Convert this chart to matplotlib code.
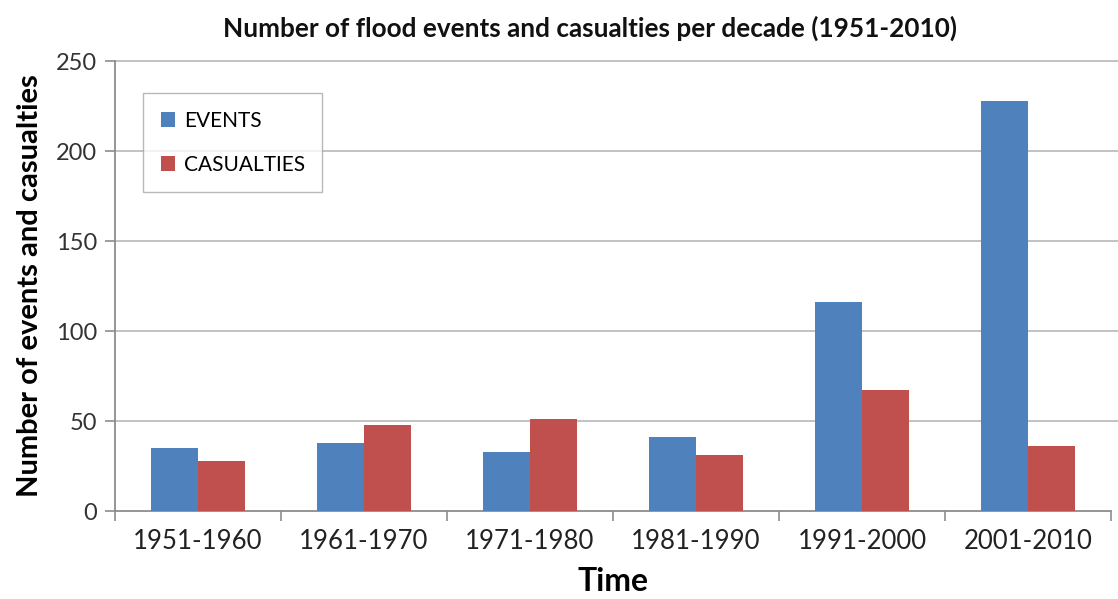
import matplotlib
matplotlib.use("Agg")
import matplotlib.pyplot as plt
import numpy as np

plt.rcParams['font.family'] = ['Lato', 'DejaVu Sans']

decades = ["1951-1960", "1961-1970", "1971-1980", "1981-1990", "1991-2000", "2001-2010"]
events = [35, 38, 33, 41, 116, 228]
casualties = [28, 48, 51, 31, 67, 36]
y_ticks = [0, 50, 100, 150, 200, 250]

blue = "#4F81BD"
red = "#C0504D"
axis_gray = "#8C8C8C"
grid_gray = "#BDBDBD"

fig = plt.figure(figsize=(11.18, 5.99), dpi=100)
ax = fig.add_axes([115 / 1118, 1 - 511 / 599, 996 / 1118, 450 / 599])

x = np.arange(len(decades))
w = 0.285
ax.bar(x - w / 2, events, width=w, color=blue, label="EVENTS", zorder=3)
ax.bar(x + w / 2, casualties, width=w, color=red, label="CASUALTIES", zorder=3)

ax.set_xlim(-0.5, len(decades) - 0.5)
ax.set_ylim(0, 250)
ax.set_yticks(y_ticks)
ax.set_yticklabels([str(t) for t in y_ticks], fontsize=17, color="#333333")

# category labels centred, tick marks on category boundaries
ax.set_xticks(x)
ax.set_xticklabels(decades, fontsize=18.5, color="#222222")
ax.tick_params(axis='x', which='major', length=0, pad=13)
ax.set_xticks(np.arange(-0.5, len(decades)), minor=True)
ax.tick_params(axis='x', which='minor', length=7, width=1.2, color=axis_gray, direction='out')
ax.tick_params(axis='y', length=7, width=1.2, color=axis_gray, direction='out', pad=6)

for y in y_ticks[1:]:
    ax.axhline(y, color=grid_gray, lw=1.3, zorder=1, clip_on=False, xmax=1.01)

for s in ["top", "right"]:
    ax.spines[s].set_visible(False)
for s in ["left", "bottom"]:
    ax.spines[s].set_color(axis_gray)
    ax.spines[s].set_linewidth(1.3)

ax.set_ylabel("Number of events and casualties", fontsize=21, fontweight="bold", labelpad=9)
ax.set_xlabel("Time", fontsize=23, fontweight="bold", labelpad=9)
fig.text(590 / 1118, 1 - 28 / 599, "Number of flood events and casualties per decade (1951-2010)",
         ha="center", va="center", fontsize=18.8, fontweight="bold", color="#111111")

leg = ax.legend(loc="upper left", bbox_to_anchor=(28 / 996, 1 - 32 / 450), fontsize=15,
                frameon=True, fancybox=False, edgecolor="#A6A6A6", handlelength=0.7,
                handleheight=0.7, handletextpad=0.4, labelspacing=1.15, borderpad=0.85,
                borderaxespad=0)
leg.get_frame().set_linewidth(1.0)
leg.set_zorder(5)

fig.savefig("out.png", dpi=100, facecolor="white")
